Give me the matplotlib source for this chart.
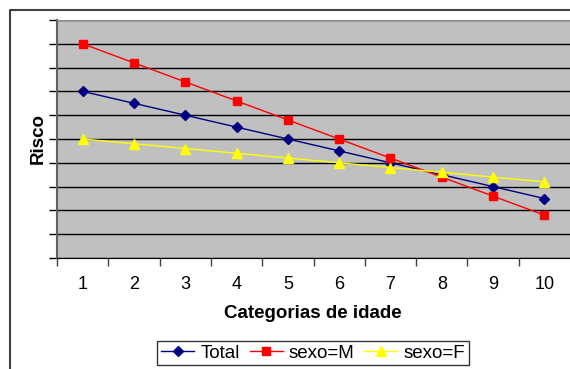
import matplotlib.pyplot as plt
from matplotlib.lines import Line2D

plt.rcParams['font.family'] = ['Liberation Sans', 'DejaVu Sans']

# risk by age category
categorias = [1, 2, 3, 4, 5, 6, 7, 8, 9, 10]
risco_total = [7.0, 6.5, 6.0, 5.5, 5.0, 4.5, 4.0, 3.5, 3.0, 2.5]
risco_m = [9.0, 8.2, 7.4, 6.6, 5.8, 5.0, 4.2, 3.4, 2.6, 1.8]
risco_f = [5.0, 4.8, 4.6, 4.4, 4.2, 4.0, 3.8, 3.6, 3.4, 3.2]

W, H = 570, 369
fig = plt.figure(figsize=(W / 100, H / 100), dpi=100)
ax = fig.add_axes([57 / W, 1 - 258 / H, 513 / W, 238 / H])
ax.set_facecolor('#C0C0C0')

ax.plot(categorias, risco_total, color='#000080', marker='D', markersize=5, lw=1, label='Total')
ax.plot(categorias, risco_m, color='#FF0000', marker='s', markersize=5.5, lw=1, label='sexo=M')
ax.plot(categorias, risco_f, color='#FFFF00', marker='^', markersize=6.5, lw=1, label='sexo=F')

ax.set_xlim(0.5, 10.5)
ax.set_ylim(0, 10)
ax.set_yticks(range(0, 11))
ax.set_yticklabels([])
ax.grid(axis='y', color='black', lw=1)
ax.set_axisbelow(True)

# category labels in the middle, tick marks between categories
ax.set_xticks(categorias)
ax.set_xticklabels([str(c) for c in categorias], fontsize=13)
ax.set_xticks([c + 0.5 for c in range(0, 10)], minor=True)
ax.tick_params(axis='x', which='major', length=0, pad=13)
ax.tick_params(axis='x', which='minor', length=6, width=1, color='#404040', direction='out')
ax.tick_params(axis='y', length=6, width=1, color='black', direction='out')

ax.spines['right'].set_visible(False)
ax.spines['left'].set_color('#606060')
ax.spines['left'].set_linewidth(1.5)
ax.spines['bottom'].set_color('black')
ax.spines['top'].set_color('#909090')

fig.text(313 / W, 1 - 313 / H, 'Categorias de idade', fontsize=13.5, fontweight='bold',
         ha='center', va='center')
fig.text(38 / W, 1 - 138 / H, 'Risco', fontsize=13.5, fontweight='bold',
         ha='center', va='center', rotation=90)

leg = fig.legend(loc='center', bbox_to_anchor=(313 / W, 1 - 353 / H), ncol=3,
                 fontsize=13.5, frameon=True, fancybox=False, edgecolor='black',
                 handlelength=1.76, handletextpad=0.32, columnspacing=0.53,
                 borderpad=0.2, borderaxespad=0)
leg.get_frame().set_linewidth(1)

# outer chart frame
fig.add_artist(Line2D([10 / W, 10 / W, 1.0], [0.0, 1 - 10 / H, 1 - 10 / H],
                      transform=fig.transFigure, color='#404040', lw=1.5))

fig.savefig('out.png', dpi=100)
